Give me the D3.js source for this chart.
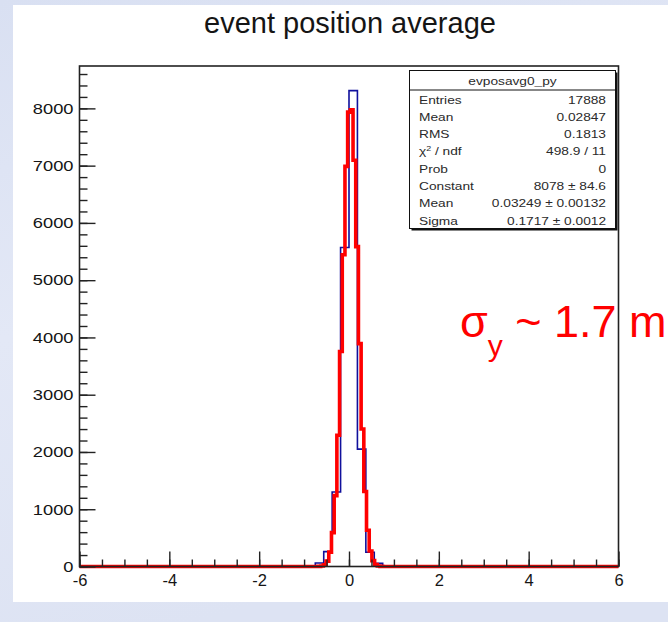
<!DOCTYPE html>
<html>
<head>
<meta charset="utf-8">
<script src="https://cdn.jsdelivr.net/npm/d3@7"></script>
<style>
  html, body { margin: 0; padding: 0; background: #fff; }
  svg { display: block; font-family: "Liberation Sans", Arial, Helvetica, sans-serif; }
</style>
</head>
<body>
<svg id="chart" width="668" height="622"></svg>
<script>
// ---------------- data ----------------
const titleText = "event position average";
const histName = "evposavg0_py";
const xDomain = [-6, 6];
const yDomain = [0, 8740];
const nBins = 64;                       // bins of width 0.1875 from -6 to 6
const xTicks = [-6, -4, -2, 0, 2, 4, 6];
const xMinorTicks = d3.range(-6, 6.001, 0.5);
const yTicks = [0, 1000, 2000, 3000, 4000, 5000, 6000, 7000, 8000];
const yMinorTicks = d3.range(0, 8701, 200);
// histogram bin contents
const binCounts = [
  0,0,0,0,0,0,0,0,0,0,0,0,0,0,0,0,
  0,0,0,0,0,0,0,0,0,0,0,0,60,260,1300,5570,
  8310,2050,250,55,10,0,0,0,0,0,0,0,0,0,0,0,
  0,0,0,0,0,0,0,0,0,0,0,0,0,0,0,0
];
// fitted curve samples
const fitX = [-6, -0.72, -0.66, -0.60, -0.54, -0.48, -0.42, -0.36, -0.30, -0.24, -0.18, -0.12, -0.06,
              0.00, 0.06, 0.12, 0.18, 0.24, 0.30, 0.36, 0.42, 0.48, 0.54, 0.60, 0.66, 0.72, 0.78, 6];
const fitY = [0, 0, 2, 9, 31, 94, 251, 592, 1238, 2293, 3755, 5445, 6987,
              7935, 7975, 7094, 5585, 3892, 2400, 1310, 632, 270, 102, 34, 10, 3, 0, 0];
const statLabels = ["Entries", "Mean", "RMS", "CHI", "Prob", "Constant", "Mean", "Sigma"];
const statValues = ["17888", "0.02847", "0.1813", "498.9 / 11", "0", "8078 \u00b1 84.6",
                    "0.03249 \u00b1 0.00132", "0.1717 \u00b1 0.0012"];

// ---------------- drawing ----------------
const svg = d3.select("#chart");
const defs = svg.append("defs");
const grad = defs.append("linearGradient").attr("id", "bg")
  .attr("x1", "0").attr("y1", "0").attr("x2", "0.3").attr("y2", "1");
grad.append("stop").attr("offset", "0").attr("stop-color", "#d9e0f2");
grad.append("stop").attr("offset", "0.5").attr("stop-color", "#e3e8f6");
grad.append("stop").attr("offset", "1").attr("stop-color", "#dde3f3");
svg.append("rect").attr("width", 668).attr("height", 622).attr("fill", "url(#bg)");
svg.append("rect").attr("x", 13).attr("y", 5).attr("width", 655).attr("height", 597).attr("fill", "#fff");

const L = 79.5, R = 618.5, T = 66, B = 566.5;
const x = d3.scaleLinear().domain(xDomain).range([L, R]);
const y = d3.scaleLinear().domain(yDomain).range([B, T]);

// title
svg.append("text").attr("x", 350).attr("y", 33).attr("text-anchor", "middle")
  .attr("font-size", 29).attr("fill", "#151515").text(titleText);

// histogram outline (step)
const binW = (xDomain[1] - xDomain[0]) / nBins;
const histPts = [[xDomain[0], 0]];
binCounts.forEach((c, i) => {
  const x0 = xDomain[0] + i * binW;
  histPts.push([x0, c], [x0 + binW, c]);
});
histPts.push([xDomain[1], 0]);
svg.append("path")
  .attr("d", d3.line().x(d => x(d[0])).y(d => y(d[1]))(histPts))
  .attr("fill", "none").attr("stroke", "#10109c").attr("stroke-width", 1.6);

// fit curve
svg.append("path")
  .attr("d", d3.line().x((d, i) => x(fitX[i])).y((d, i) => y(fitY[i])).curve(d3.curveStep)(fitX))
  .attr("fill", "none").attr("stroke", "#ff0000").attr("stroke-width", 3.6)
  .attr("stroke-linejoin", "miter");

// axes
const axisColor = "#222";
const gx = svg.append("g").attr("transform", `translate(0,${B})`)
  .call(d3.axisBottom(x).tickValues(xTicks).tickSize(-15).tickPadding(7.5).tickFormat(d3.format("d")));
const gxm = svg.append("g").attr("transform", `translate(0,${B})`)
  .call(d3.axisBottom(x).tickValues(xMinorTicks).tickSize(-7).tickFormat(""));
const gy = svg.append("g").attr("transform", `translate(${L},0)`)
  .call(d3.axisLeft(y).tickValues(yTicks).tickSize(-16).tickPadding(6).tickFormat(d3.format("d")));
const gym = svg.append("g").attr("transform", `translate(${L},0)`)
  .call(d3.axisLeft(y).tickValues(yMinorTicks).tickSize(-8).tickFormat(""));
[gx, gxm, gy, gym].forEach(g => {
  g.select(".domain").remove();
  g.selectAll(".tick line").attr("stroke", axisColor).attr("stroke-width", 1.4);
});
gx.selectAll("text").attr("font-size", 16.5).attr("fill", "#151515")
  .attr("font-family", "'Liberation Sans', Arial, sans-serif")
  .text(d => d < 0 ? "-" + Math.abs(d) : d);
gy.selectAll("text").attr("font-size", 15).attr("fill", "#151515")
  .attr("font-family", "'Liberation Sans', Arial, sans-serif")
  .attr("transform", "translate(-6,0) scale(1.22,1) translate(6,0)");

// frame
svg.append("rect").attr("x", L).attr("y", T).attr("width", R - L).attr("height", B - T)
  .attr("fill", "none").attr("stroke", axisColor).attr("stroke-width", 1.6);

// stats box
const sb = { x: 409.5, y: 70.5, w: 206, h: 158 };
svg.append("rect").attr("x", sb.x + 2).attr("y", sb.y + 2).attr("width", sb.w).attr("height", sb.h)
  .attr("fill", "#111");
svg.append("rect").attr("x", sb.x).attr("y", sb.y).attr("width", sb.w).attr("height", sb.h)
  .attr("fill", "#fff").attr("stroke", "#111").attr("stroke-width", 1);
svg.append("line").attr("x1", sb.x).attr("x2", sb.x + sb.w).attr("y1", 90).attr("y2", 90)
  .attr("stroke", "#111").attr("stroke-width", 1);
const sx = 1.27;
function stretched(px, py, anchor) {
  return svg.append("text").attr("transform", `translate(${px},${py}) scale(${sx},1)`)
    .attr("text-anchor", anchor).attr("font-size", 10.8).attr("fill", "#2a2a2a");
}
stretched(sb.x + sb.w / 2, 85, "middle").text(histName);
statLabels.forEach((lab, i) => {
  const by = 103.5 + i * 17.3;
  const t = stretched(419, by, "start");
  if (lab === "CHI") {
    t.append("tspan").text("\u03c7");
    t.append("tspan").attr("font-size", 7).attr("dy", -4.5).text("2");
    t.append("tspan").attr("dy", 4.5).text(" / ndf");
  } else {
    t.text(lab);
  }
  stretched(606, by, "end").text(statValues[i]);
});

// annotation
const ann = svg.append("text").attr("x", 460).attr("y", 337).attr("fill", "#ff0000")
  .attr("font-size", 45).attr("font-family", "'Liberation Sans', Arial, sans-serif");
ann.append("tspan").text("\u03c3");
ann.append("tspan").attr("font-size", 30).attr("dy", 18.5).text("y");
ann.append("tspan").attr("dy", -18.5).text(" ~ 1.7 m");
</script>
</body>
</html>
